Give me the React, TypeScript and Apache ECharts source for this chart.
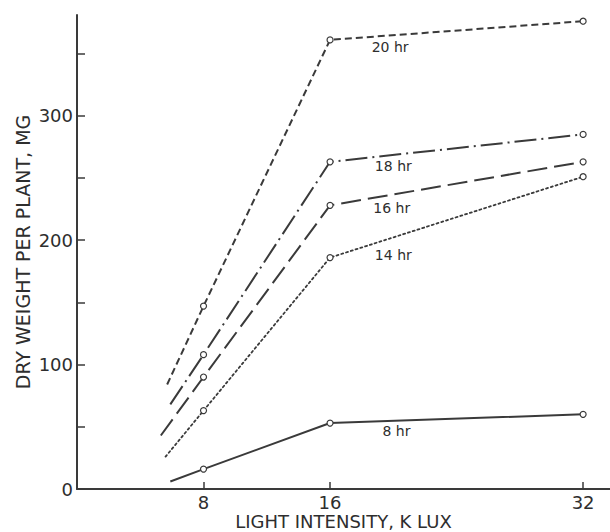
import React, { useEffect, useRef } from "react";
import * as echarts from "echarts";

// Photoperiod curves: dry weight (mg) at 8, 16, 32 k lux, plus the
// extrapolated start of each curve below 8 k lux (drawn without a marker).
const lightLevels = [8, 16, 32];
const seriesNames = ["20 hr", "18 hr", "16 hr", "14 hr", "8 hr"];
const weight20 = [147, 361, 376];
const weight18 = [108, 263, 285];
const weight16 = [90, 228, 263];
const weight14 = [63, 186, 251];
const weight8 = [16, 53, 60];
const startX = [5.7, 5.9, 5.3, 5.6, 5.9];
const startY = [84, 68, 43, 26, 6];
const labelX = [19.8, 20.0, 19.9, 20.0, 20.2];
const labelY = [355, 260, 226, 188, 47];

const yTicks = [0, 50, 100, 150, 200, 250, 300, 350];
const yLabels = [0, 100, 200, 300];
const xTicks = [8, 16, 32];

const INK = "#3a3a3a";
const FONT = "DejaVu Sans";

const lineTypes: any[] = [
  [7, 4],
  [22, 5, 2, 5],
  [20, 7],
  [2, 3],
  "solid",
];

export default function App() {
  const ref = useRef<HTMLDivElement>(null);

  useEffect(() => {
    if (!ref.current) return;
    const chart = echarts.init(ref.current, undefined, { renderer: "svg" });
    const all = [weight20, weight18, weight16, weight14, weight8];

    const series = all.map((vals, i) => ({
      name: seriesNames[i],
      type: "line",
      data: [
        { value: [startX[i], startY[i]], symbol: "none" },
        ...lightLevels.map((x, j) => [x, vals[j]]),
      ],
      symbol: "circle",
      symbolSize: 6,
      showSymbol: true,
      itemStyle: { color: "#fff", borderColor: INK, borderWidth: 1.2 },
      lineStyle: {
        color: INK,
        width: i === 3 ? 1.8 : 2,
        type: lineTypes[i],
        cap: i === 3 ? "round" : "butt",
      },
      z: 2,
      markPoint: {
        symbol: "rect",
        symbolSize: 1,
        itemStyle: { color: "rgba(0,0,0,0)" },
        label: {
          show: true,
          position: "inside",
          formatter: seriesNames[i],
          color: "#2e2e2e",
          fontFamily: FONT,
          fontSize: 14,
        },
        data: [{ coord: [labelX[i], labelY[i]] }],
      },
    }));

    chart.setOption({
      animation: false,
      backgroundColor: "#fff",
      grid: {
        left: 77,
        right: 0,
        top: 15,
        bottom: 43,
        containLabel: false,
        outerBoundsMode: "none",
      },
      xAxis: {
        type: "value",
        min: 0,
        max: 33.7,
        name: "LIGHT INTENSITY, K LUX",
        nameLocation: "middle",
        nameGap: 23,
        nameMoveOverlap: false,
        nameTextStyle: {
          color: "#2e2e2e",
          fontFamily: FONT,
          fontSize: 18,
          lineHeight: 18,
        },
        axisLine: { show: true, lineStyle: { color: INK, width: 2 } },
        axisTick: {
          show: true,
          inside: true,
          length: 7,
          customValues: xTicks,
          lineStyle: { color: INK, width: 1.5 },
        },
        axisLabel: {
          customValues: xTicks,
          color: "#2e2e2e",
          fontFamily: FONT,
          fontSize: 18,
          margin: 4,
        },
        splitLine: { show: false },
      },
      yAxis: {
        type: "value",
        min: 0,
        max: 381,
        name: "DRY WEIGHT PER PLANT, MG",
        nameLocation: "middle",
        nameGap: 45,
        nameMoveOverlap: false,
        nameRotate: 90,
        nameTextStyle: {
          color: "#2e2e2e",
          fontFamily: FONT,
          fontSize: 19,
        },
        axisLine: { show: true, lineStyle: { color: INK, width: 2 } },
        axisTick: {
          show: true,
          inside: true,
          length: 8,
          customValues: yTicks,
          lineStyle: { color: INK, width: 1.5 },
        },
        axisLabel: {
          customValues: yLabels,
          color: "#2e2e2e",
          fontFamily: FONT,
          fontSize: 18,
          margin: 4,
        },
        splitLine: { show: false },
      },
      series,
    });

    return () => chart.dispose();
  }, []);

  return (
    <div
      ref={ref}
      style={{ position: "absolute", left: 0, top: 0, width: 610, height: 532 }}
    />
  );
}
